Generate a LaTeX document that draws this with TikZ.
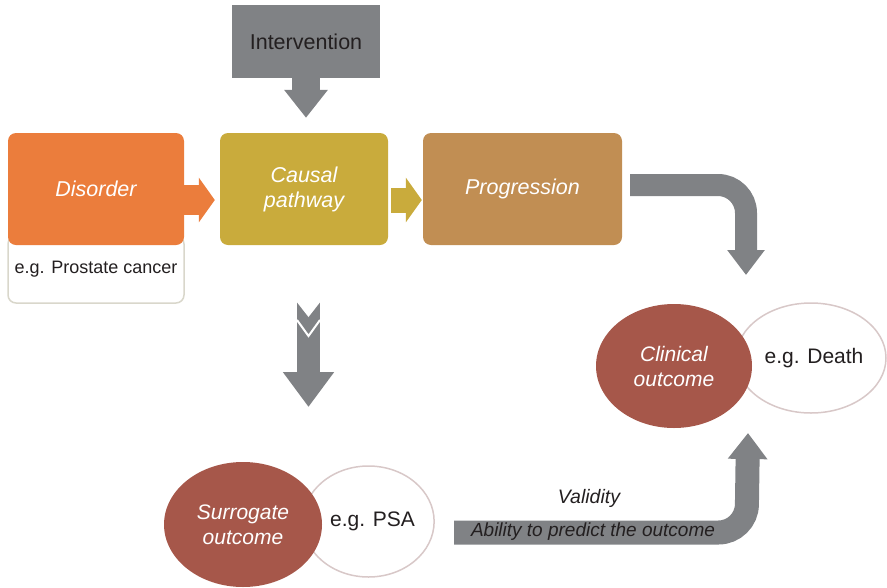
\documentclass[tikz,border=0pt]{standalone}
\usepackage{fontspec}
\setmainfont{Liberation Sans}
\usepackage{tikz}
\usetikzlibrary{arrows.meta,positioning,calc,shapes.geometric}
\definecolor{disorange}{HTML}{EB7D3C}
\definecolor{causalgold}{HTML}{C9AB3C}
\definecolor{proggold}{HTML}{C18E53}
\definecolor{arrowgray}{HTML}{808285}
\definecolor{ovalred}{HTML}{A6574A}
\definecolor{ovalline}{HTML}{D8C8C8}
\definecolor{boxline}{HTML}{D9D7CB}
\definecolor{darktext}{HTML}{231F20}
\tikzstyle{box}=[rounded corners=8pt,minimum width=176pt,minimum height=112pt,inner sep=0pt,text=white,align=center,font=\fontsize{21.5}{25}\selectfont\itshape]
\tikzstyle{egbox}=[draw=boxline,line width=1.5pt,fill=white,rounded corners=8pt,minimum width=176pt,minimum height=67pt,inner sep=0pt,text=darktext,font=\fontsize{18}{22}\selectfont]
\tikzstyle{intbox}=[fill=arrowgray,minimum width=148pt,minimum height=73pt,inner sep=0pt,text=darktext,font=\fontsize{21.5}{24}\selectfont]
\tikzstyle{oval}=[ellipse,fill=ovalred,inner sep=0pt,text=white,align=center,font=\fontsize{21}{25}\selectfont\itshape]
\tikzstyle{egoval}=[ellipse,draw=ovalline,line width=1.5pt,fill=white,inner sep=0pt,text=darktext,font=\fontsize{21}{24}\selectfont]
\tikzstyle{bent}=[arrowgray,rounded corners=28pt]

\begin{document}
\begin{tikzpicture}[x=1pt,y=-1pt]
\useasboundingbox (0,0) rectangle (887,587);
\node [egbox] (eg1) at (96,269.5) {e.g. Prostate cancer};
\node [box,fill=disorange] (dis) at (96,189) {Disorder};
\node [box,fill=causalgold,minimum width=168pt] (cau) at (304,189) {Causal\\pathway};
\node [box,fill=proggold,minimum width=199pt] (pro) at (522.5,189) {Progression};
\node [intbox] (int) at (306,41.5) {Intervention};

\draw [disorange,line width=30pt,-{Triangle[length=16pt,width=44pt]}] ([yshift=-11pt]dis.east) -- ([xshift=-5pt,yshift=-11pt]cau.west);
\draw [causalgold,line width=25pt,-{Triangle[length=16pt,width=44pt]}] ([xshift=3pt,yshift=-11pt]cau.east) -- ([xshift=-1pt,yshift=-11pt]pro.west);
\draw [arrowgray,line width=28pt,-{Triangle[length=28pt,width=42pt]}] (int.south) -- ([yshift=15pt]int.south |- cau.north);

\coordinate (dt) at (746,275);
\draw [bent,line width=22pt,-{Triangle[length=25pt,width=36pt]}] ([xshift=8pt,yshift=4pt]pro.east) -- (746,185) -- (dt);

\coordinate (ctop) at (308.5,302);
\coordinate (ctip) at (308.5,407);
\draw [arrowgray,line width=23pt,-{Triangle[length=35pt,width=49pt]}] (ctop) -- (ctip);
\fill [white] (296,301) -- (308.5,317) -- (321,301) -- cycle;
\draw [white,line width=2pt] (297,320) -- (308.5,336) -- (320,320);

\node [egoval,minimum width=150pt,minimum height=110pt] (dea) at (811,358) {\hspace*{6pt}e.g. Death};
\node [oval,minimum width=156pt,minimum height=124pt] (cli) at (674,366) {Clinical\\outcome};
\node [egoval,minimum width=123pt,minimum height=111pt] (psa) at (368.5,521.5) {\hspace*{8pt}e.g. PSA};
\node [oval,minimum width=158pt,minimum height=125pt] (sur) at (243,524.5) {Surrogate\\outcome};

\coordinate (vs) at (454,532.5);
\coordinate (vt) at (748,433);
\draw [bent,line width=24pt,-{Triangle[length=26pt,width=38pt]}] (vs) -- (746.5,532.5) -- (vt);
\node [text=darktext,font=\fontsize{19.5}{23}\selectfont\itshape] (val) at (589,498) {Validity};
\node [text=darktext,font=\fontsize{19}{23}\selectfont\itshape] (abl) at (593,532) {Ability to predict the outcome};
\end{tikzpicture}
\end{document}
